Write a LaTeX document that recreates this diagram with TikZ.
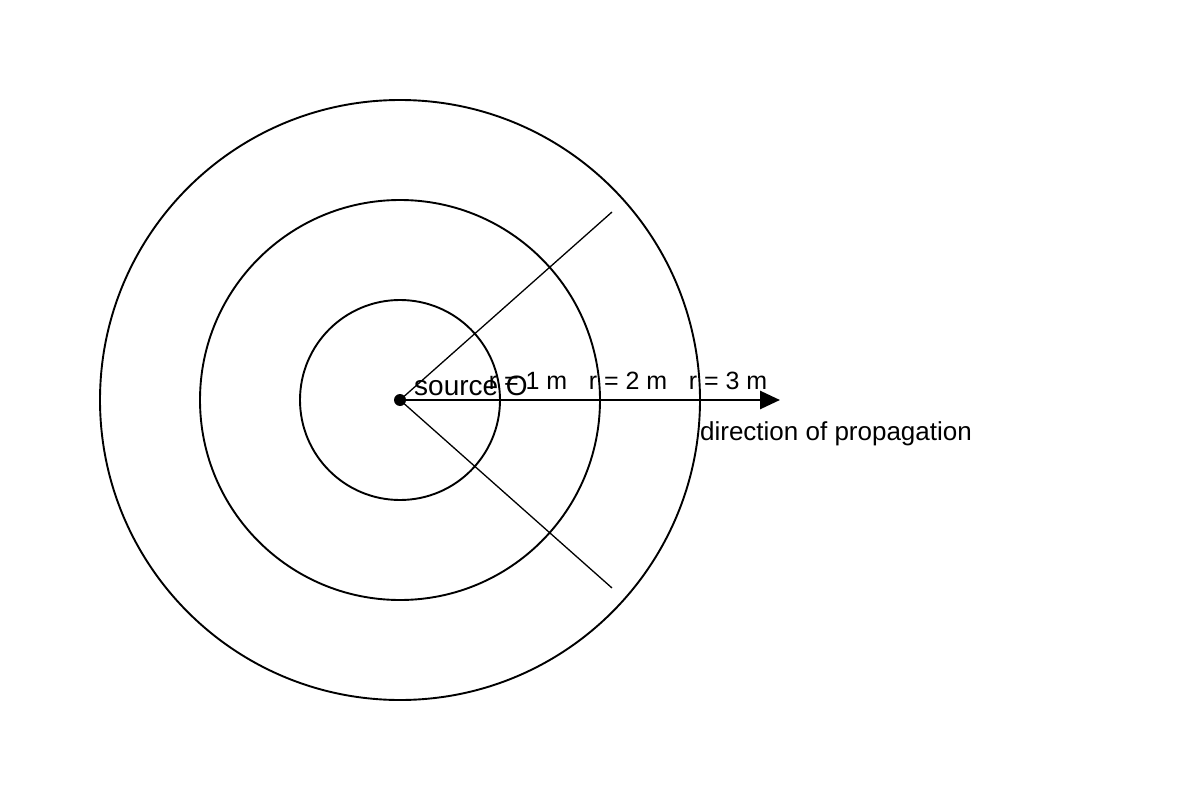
\documentclass[tikz,border=0pt]{standalone}
\usepackage{fontspec}
\setmainfont{Liberation Sans}
\usetikzlibrary{arrows.meta}
\begin{document}
\begin{tikzpicture}[x=1pt, y=-1pt,
    wave/.style={line width=1.9pt},
    ray/.style={line width=1.3pt},
    lbl/.style={inner sep=0pt, font=\fontsize{25}{30}\selectfont}]
      \useasboundingbox (0, 0) rectangle (1200, 800);
      \draw[wave] (400, 400) circle [radius=100];
      \draw[wave] (400, 400) circle [radius=200];
      \draw[wave] (400, 400) circle [radius=300];
      \node[circle, fill=black, inner sep=0pt, minimum size=12] (O) at (400, 400) {};
      \coordinate (up) at (612, 212);
      \coordinate (down) at (612, 588);
      \coordinate (edge) at (700, 400);
      \coordinate (tip) at (780, 400);
      \draw[ray] (O.center) -- (up);
      \draw[ray] (O.center) -- (down);
      \draw[line width=1.6pt] (O.center) -- (edge);
      \draw[line width=2.8pt, -{Triangle[length=20, width=18]}] (edge) -- (tip);
      \node[lbl] (r1) at (528, 381) {r = 1 m};
      \node[lbl] (r2) at (628, 381) {r = 2 m};
      \node[lbl] (r3) at (728, 381) {r = 3 m};
      \node[lbl, font=\fontsize{28}{32}\selectfont] (src) at (471, 386) {source O};
      \node[lbl, font=\fontsize{26}{30}\selectfont] (dir) at (836, 434) {direction of propagation};
    \end{tikzpicture}
\end{document}
